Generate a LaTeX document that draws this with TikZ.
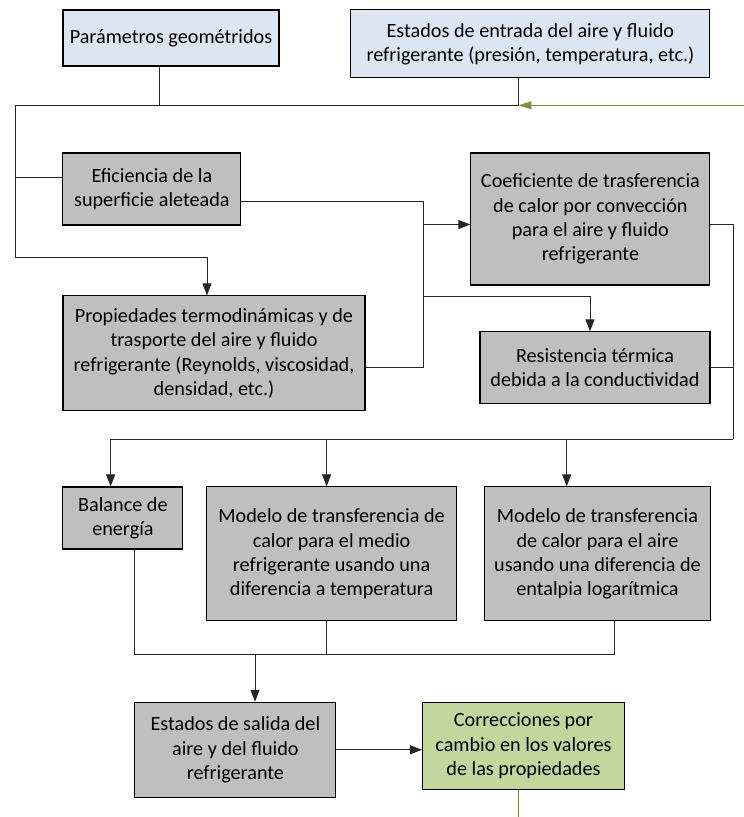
\documentclass[tikz,border=0pt]{standalone}
\usepackage{fontspec}
\setmainfont{Carlito}
\usetikzlibrary{arrows.meta}
\definecolor{azulclaro}{RGB}{220,230,242}
\definecolor{grisclaro}{RGB}{191,191,191}
\definecolor{verdeclaro}{RGB}{195,214,155}
\definecolor{verdeoscuro}{RGB}{119,147,60}

\begin{document}
\begin{tikzpicture}[x=1pt,y=-1pt,>={Triangle[length=12pt,width=9pt]},
  caja/.style={draw=black,line width=1.1pt,align=center,inner sep=0pt,font=\fontsize{20.2}{24.2}\selectfont},
  entrada/.style={caja,fill=azulclaro},
  calculo/.style={caja,fill=grisclaro},
  correccion/.style={caja,fill=verdeclaro},
  linea/.style={draw=black!85,line width=1pt}]
\useasboundingbox (0,0) rectangle (744,817);
% cajas
\node[entrada,minimum width=216pt,minimum height=56pt] (pg) at (171,38) {Parámetros geométridos};
\node[entrada,minimum width=359pt,minimum height=68pt] (ee) at (530.4,43.9) {Estados de entrada del aire y fluido\\refrigerante (presión, temperatura, etc.)};
\node[calculo,minimum width=178pt,minimum height=72pt] (ef) at (151.9,189) {Eficiencia de la\\superficie aleteada};
\node[calculo,minimum width=239pt,minimum height=132pt] (co) at (590.4,219) {Coeficiente de trasferencia\\de calor por convección\\para el aire y fluido\\refrigerante};
\node[calculo,minimum width=302pt,minimum height=115pt] (pr) at (214,353.4) {Propiedades termodinámicas y de\\trasporte del aire y fluido\\refrigerante (Reynolds, viscosidad,\\densidad, etc.)};
\node[calculo,minimum width=230pt,minimum height=72pt] (re) at (595,367.9) {Resistencia térmica\\debida a la conductividad};
\node[calculo,minimum width=120pt,minimum height=62pt] (ba) at (122.9,518) {Balance de\\energía};
\node[calculo,minimum width=250pt,minimum height=134pt] (mm) at (331.6,553.9) {Modelo de transferencia de\\calor para el medio\\refrigerante usando una\\diferencia a temperatura};
\node[calculo,minimum width=226pt,minimum height=134pt] (ma) at (597.5,553.9) {Modelo de transferencia\\de calor para el aire\\usando una diferencia de\\entalpia logarítmica};
\node[calculo,minimum width=201pt,minimum height=95pt] (sa) at (235.4,749.8) {Estados de salida del\\aire y del fluido\\refrigerante};
\node[correccion,minimum width=202pt,minimum height=87pt] (cr) at (523.5,745.7) {Correcciones por\\cambio en los valores\\de las propiedades};
% puntos de union
\coordinate (bs) at (15,105.3);
\coordinate (bl) at (15,257);
\coordinate (mt) at (423,201);
\coordinate (mr) at (423,296.7);
\coordinate (mb) at (423,367.7);
\coordinate (rv) at (733.3,439.3);
\coordinate (bb) at (614.3,654.3);
\coordinate (ini) at (744,105.3);
\coordinate (fin) at (518,817);
\begin{scope}[linea]
\draw ([xshift=-12pt]pg.south) |- (bs);
\draw ([xshift=-12pt]ee.south) |- (bs) -- (bl);
\draw ([yshift=12pt]ef.west) -| (bs);
\draw[->] (bl) -| ([xshift=-7pt]pr.north);
\draw ([yshift=-12pt]ef.east) -- (mt) -- (mb) -- (mb -| pr.east);
\draw[->] ([yshift=-5.5pt]co.west -| mt) -- ([yshift=-5.5pt]co.west);
\draw[->] (mr) -| ([xshift=-5pt]re.north);
\draw ([yshift=-5.5pt]co.east) -| (rv);
\draw (re.east) -| (rv);
\draw (rv) -- ([xshift=-12.3pt]ba.north |- rv);
\foreach \n/\d in {ba/-12.3,mm/-5,ma/-30.8}
  \draw[->] ([xshift=\d pt]\n.north |- rv) -- ([xshift=\d pt]\n.north);
\draw ([xshift=12pt]ba.south) |- (bb) -- (bb |- ma.south);
\draw ([xshift=-5pt]mm.south) -- ([xshift=-5pt]mm.south |- bb);
\draw[->] ([xshift=19.6pt]sa.north |- bb) -- ([xshift=19.6pt]sa.north);
\draw[->] (sa.east) -- (sa.east -| cr.west);
\end{scope}
\begin{scope}[linea,draw=verdeoscuro,fill=verdeoscuro]
\draw[-{Triangle[length=13pt,width=8pt]}] (ini) -- ([xshift=-12pt]ee.south |- ini);
\draw ([xshift=-5.5pt]cr.south) -- (fin);
\end{scope}
\end{tikzpicture}
\end{document}
